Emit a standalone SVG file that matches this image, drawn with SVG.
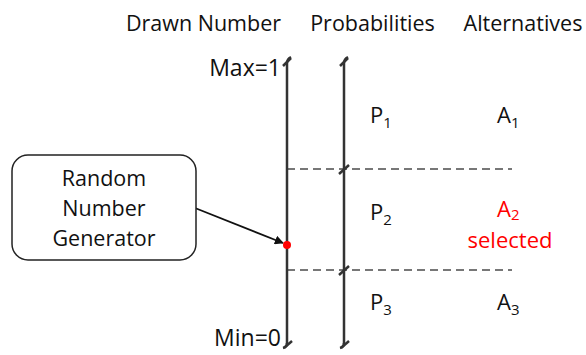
<svg xmlns="http://www.w3.org/2000/svg" width="586" height="355" viewBox="0 0 586 355">
<defs>
<style>
text{font-family:"Open Sans","Liberation Sans",sans-serif;fill:#111;}
.h{font-size:21.5px;text-anchor:middle;}
.l{font-size:22px;}
.sub{font-size:15px;}
.axis{stroke:#333;stroke-width:2.5;fill:none;}
.dash{stroke:#777;stroke-width:1.8;stroke-dasharray:8,5;fill:none;}
.red{fill:#f00;}
</style>
<marker id="ah" viewBox="0 0 10 10" refX="9" refY="5" markerWidth="5" markerHeight="5" orient="auto">
<path d="M0,0 L10,5 L0,10 z" fill="#111"/>
</marker>
</defs>
<rect width="586" height="355" fill="#fff"/>
<g id="headers">
<text class="h" x="203.5" y="31">Drawn Number</text>
<text class="h" x="372.5" y="31">Probabilities</text>
<text class="h" x="523" y="31">Alternatives</text>
</g>
<g id="connectors">
<path class="dash" d="M287,169 H512"/>
<path class="dash" d="M287,270 H512"/>
<path class="axis" d="M287,344 V63 Q287,59 291,57"/>
<path class="axis" d="M283,66 L291,58" stroke-width="1.8"/>
<path class="axis" d="M287,343 Q287,347 283,348"/>
<path class="axis" d="M284,348 L292,341" stroke-width="1.8"/>
<path class="axis" d="M344,344 V63 Q344,59 348,57"/>
<path class="axis" d="M340,66 L348,58" stroke-width="1.8"/>
<path class="axis" d="M344,343 Q344,347 340,348"/>
<path class="axis" d="M341,348 L349,341" stroke-width="1.8"/>
<path class="axis" d="M339,174 L349,165" stroke-width="1.8"/>
<path class="axis" d="M339,275 L349,266" stroke-width="1.8"/>
<line x1="195" y1="208" x2="283" y2="243" stroke="#111" stroke-width="1.8" marker-end="url(#ah)"/>
<circle class="red" cx="287" cy="245" r="4"/>
</g>
<g id="axis-labels">
<text class="l" x="281" y="76" text-anchor="end" style="font-size:23px">Max=1</text>
<text class="l" x="281" y="346" text-anchor="end" style="font-size:23px">Min=0</text>
</g>
<g id="rng">
<rect x="12" y="155" width="184" height="105" rx="16" ry="16" fill="#fff" stroke="#222" stroke-width="1.5"/>
<text class="h" x="104" y="186">Random</text>
<text class="h" x="104" y="216">Number</text>
<text class="h" x="104" y="246">Generator</text>
</g>
<g id="probs">
<text class="l" x="370" y="123">P<tspan class="sub" dy="5">1</tspan></text>
<text class="l" x="370" y="220">P<tspan class="sub" dy="5">2</tspan></text>
<text class="l" x="370" y="310">P<tspan class="sub" dy="5">3</tspan></text>
</g>
<g id="alts">
<text class="l" x="497" y="123">A<tspan class="sub" dy="5">1</tspan></text>
<text class="l red" x="497" y="217">A<tspan class="sub" dy="3">2</tspan></text>
<text class="l red" x="510" y="248" text-anchor="middle">selected</text>
<text class="l" x="497" y="310">A<tspan class="sub" dy="5">3</tspan></text>
</g>
</svg>
